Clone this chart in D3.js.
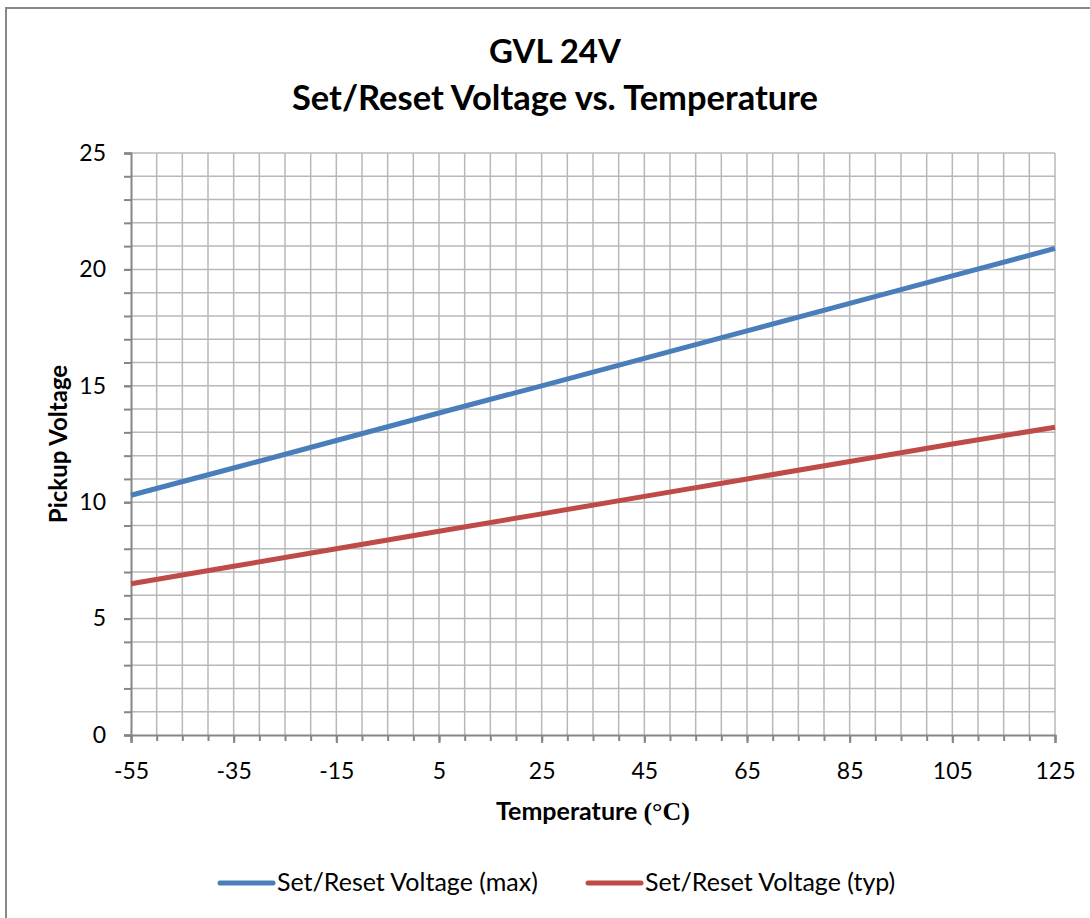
<!DOCTYPE html>
<html>
<head>
<meta charset="utf-8">
<script src="https://cdn.jsdelivr.net/npm/d3@7"></script>
<style>
  body { margin: 0; background: #fff; }
  text { font-family: Lato, "Open Sans", sans-serif; fill: #000; }
</style>
</head>
<body>
<main></main>
<script>
const temps = [-55, -35, -15, 5, 25, 45, 65, 85, 105, 125];
const maxVolts = [10.3, 11.47, 12.65, 13.83, 15.0, 16.18, 17.36, 18.54, 19.72, 20.9];
const typVolts = [6.5, 7.25, 8.0, 8.75, 9.5, 10.25, 11.0, 11.75, 12.5, 13.22];
const seriesNames = ['Set/Reset Voltage (max)', 'Set/Reset Voltage (typ)'];
const seriesColors = ['#4a7ebb', '#be4b48'];
const xTicks = [-55, -35, -15, 5, 25, 45, 65, 85, 105, 125];
const yTicks = [0, 5, 10, 15, 20, 25];

const w = 1090;
const h = 918;
const m = { left: 131, right: 1055, top: 153, bottom: 735 };

const svg = d3.select('main').append('svg').attr('width', w).attr('height', h);

// outer chart border (only top/left visible in frame)
svg.append('path')
    .attr('d', `M6,${h + 5}V8H${w + 5}`)
    .attr('fill', 'none')
    .attr('stroke', '#888')
    .attr('stroke-width', 2);

const x = d3.scaleLinear().domain([-55, 125]).range([m.left, m.right]);
const y = d3.scaleLinear().domain([0, 25]).range([m.bottom, m.top]);

// gridlines
const grid = svg.append('g').attr('stroke', '#b8b8b8').attr('stroke-width', 1.5);
grid.selectAll('.vg')
    .data(d3.range(-50, 126, 5))
    .enter().append('line')
    .attr('x1', d => x(d)).attr('x2', d => x(d))
    .attr('y1', m.top).attr('y2', m.bottom);
grid.selectAll('.hg')
    .data(d3.range(1, 26, 1))
    .enter().append('line')
    .attr('x1', m.left).attr('x2', m.right)
    .attr('y1', d => y(d)).attr('y2', d => y(d));

const styleAxis = g => {
    g.selectAll('line').attr('stroke', '#868686').attr('stroke-width', 2);
    g.selectAll('text').attr('font-size', 23).style('font-family', 'Lato').attr('fill', '#000');
};

// y axis
const yMinor = d3.axisLeft(y).tickValues(d3.range(0, 26, 1)).tickSize(7).tickFormat('');
const yAxis = d3.axisLeft(y).tickValues(yTicks).tickSize(7).tickPadding(18).tickFormat(d => String(d));
svg.append('g').attr('transform', `translate(${m.left},0)`).call(yMinor)
    .call(styleAxis).call(g => g.select('.domain').remove());
svg.append('g').attr('transform', `translate(${m.left},0)`).call(yAxis)
    .call(styleAxis)
    .call(g => g.select('.domain').attr('stroke', '#868686').attr('stroke-width', 2));

// x axis
const xMinor = d3.axisBottom(x).tickValues(d3.range(-55, 126, 5)).tickSize(6).tickFormat('');
const xAxis = d3.axisBottom(x).tickValues(xTicks).tickSize(8).tickPadding(20).tickFormat(d => String(d));
svg.append('g').attr('transform', `translate(0,${m.bottom})`).call(xMinor)
    .call(styleAxis).call(g => g.select('.domain').remove());
svg.append('g').attr('transform', `translate(0,${m.bottom})`).call(xAxis)
    .call(styleAxis)
    .call(g => g.select('.domain').attr('stroke', '#868686').attr('stroke-width', 2));

// series
const series = [maxVolts, typVolts];
const line = d3.line().x((d, i) => x(temps[i])).y(d => y(d));
svg.append('g').selectAll('path')
    .data(series)
    .enter().append('path')
    .attr('d', d => line(d))
    .attr('fill', 'none')
    .attr('stroke', (d, i) => seriesColors[i])
    .attr('stroke-width', 5);

// titles
svg.append('text').attr('x', 555).attr('y', 63).attr('text-anchor', 'middle')
    .attr('font-size', 33).attr('font-weight', 'bold').text('GVL 24V');
svg.append('text').attr('x', 555).attr('y', 110).attr('text-anchor', 'middle')
    .attr('font-size', 34.5).attr('font-weight', 'bold').text('Set/Reset Voltage vs. Temperature');

const xt = svg.append('text').attr('x', 593).attr('y', 820).attr('text-anchor', 'middle')
    .attr('font-size', 25).attr('font-weight', 'bold');
xt.append('tspan').text('Temperature ');
xt.append('tspan').style('font-family', '"Liberation Serif", serif').attr('font-size', 26).text('(°C)');

svg.append('text')
    .attr('transform', `translate(67,${(m.top + m.bottom) / 2}) rotate(-90)`)
    .attr('text-anchor', 'middle')
    .attr('font-size', 24).attr('font-weight', 'bold')
    .text('Pickup Voltage');

// legend
const legendX = [220, 588];
const legend = svg.append('g').selectAll('g')
    .data(seriesNames)
    .enter().append('g')
    .attr('transform', (d, i) => `translate(${legendX[i]},883)`);
legend.append('line')
    .attr('x1', 0).attr('x2', 53)
    .attr('stroke', (d, i) => seriesColors[i])
    .attr('stroke-width', 5).attr('stroke-linecap', 'round');
legend.append('text')
    .attr('x', 57).attr('y', 8)
    .attr('font-size', 25)
    .text(d => d);
</script>
</body>
</html>
